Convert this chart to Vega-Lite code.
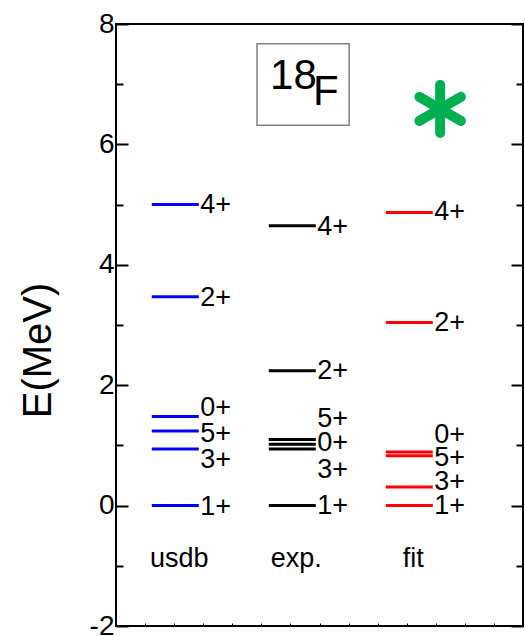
{
  "$schema": "https://vega.github.io/schema/vega-lite/v6.json",
  "width": 407,
  "height": 602,
  "autosize": "none",
  "padding": {"left": 116, "top": 24, "right": 2, "bottom": 10},
  "config": {
    "view": {"stroke": "black", "strokeWidth": 2},
    "font": "Liberation Sans",
    "axis": {"grid": false, "domain": false, "tickColor": "black", "tickWidth": 2, "labelColor": "black", "titleColor": "black", "labelFont": "Liberation Sans", "titleFont": "Liberation Sans"}
  },
  "datasets": {
    "levels": [
      {"model": "usdb", "Jpi": "1+", "E": 0.0, "labelE": -0.02},
      {"model": "usdb", "Jpi": "3+", "E": 0.94, "labelE": 0.76},
      {"model": "usdb", "Jpi": "5+", "E": 1.24, "labelE": 1.19},
      {"model": "usdb", "Jpi": "0+", "E": 1.48, "labelE": 1.62},
      {"model": "usdb", "Jpi": "2+", "E": 3.47, "labelE": 3.45},
      {"model": "usdb", "Jpi": "4+", "E": 5.0, "labelE": 5.0},
      {"model": "exp.", "Jpi": "1+", "E": 0.0, "labelE": 0.0},
      {"model": "exp.", "Jpi": "3+", "E": 0.94, "labelE": 0.59},
      {"model": "exp.", "Jpi": "0+", "E": 1.02, "labelE": 1.04},
      {"model": "exp.", "Jpi": "5+", "E": 1.1, "labelE": 1.44},
      {"model": "exp.", "Jpi": "2+", "E": 2.24, "labelE": 2.24},
      {"model": "exp.", "Jpi": "4+", "E": 4.65, "labelE": 4.63},
      {"model": "fit", "Jpi": "1+", "E": 0.0, "labelE": 0.0},
      {"model": "fit", "Jpi": "3+", "E": 0.31, "labelE": 0.4},
      {"model": "fit", "Jpi": "5+", "E": 0.83, "labelE": 0.79},
      {"model": "fit", "Jpi": "0+", "E": 0.89, "labelE": 1.17},
      {"model": "fit", "Jpi": "2+", "E": 3.04, "labelE": 3.04},
      {"model": "fit", "Jpi": "4+", "E": 4.87, "labelE": 4.87}
    ],
    "models": [
      {"model": "usdb", "E": -1.02},
      {"model": "exp.", "E": -1.02},
      {"model": "fit", "E": -1.02}
    ]
  },
  "resolve": {"scale": {"x": "independent"}, "axis": {"y": "independent", "x": "independent"}},
  "layer": [
    {
      "data": {"name": "levels"},
      "mark": {"type": "tick", "orient": "horizontal", "size": 47, "thickness": 3, "opacity": 1},
      "encoding": {
        "x": {"field": "model", "type": "nominal", "scale": {"type": "point", "domain": ["usdb", "exp.", "fit"], "range": [59.3, 293.3], "padding": 0}, "axis": null},
        "y": {"field": "E", "type": "quantitative", "scale": {"domain": [-2, 8], "nice": false, "zero": false},
          "axis": {"orient": "left", "values": [-2, 0, 2, 4, 6, 8], "tickSize": -12, "labelFontSize": 28, "labelPadding": 14, "labelExpr": "'' + datum.value",
            "title": "E(MeV)", "titleFontSize": 40, "titleFontWeight": "normal", "titleX": -78, "titleY": 326, "titleAngle": -90, "titleAlign": "center", "titleBaseline": "middle"}},
        "color": {"field": "model", "type": "nominal", "scale": {"domain": ["usdb", "exp.", "fit"], "range": ["#0000FF", "#000000", "#FF0000"]}, "legend": null}
      }
    },
    {
      "data": {"name": "levels"},
      "mark": {"type": "text", "align": "left", "baseline": "middle", "dx": 25, "fontSize": 27, "color": "black"},
      "encoding": {
        "x": {"field": "model", "type": "nominal", "scale": {"type": "point", "domain": ["usdb", "exp.", "fit"], "range": [59.3, 293.3], "padding": 0}, "axis": null},
        "y": {"field": "labelE", "type": "quantitative", "scale": {"domain": [-2, 8], "nice": false, "zero": false},
          "axis": {"orient": "left", "values": [-1, 1, 3, 5, 7], "tickSize": -7, "labels": false, "title": null}},
        "text": {"field": "Jpi"}
      }
    },
    {
      "data": {"name": "models"},
      "mark": {"type": "text", "align": "center", "baseline": "alphabetic", "dx": 4, "fontSize": 27, "color": "black"},
      "encoding": {
        "x": {"field": "model", "type": "nominal", "scale": {"type": "point", "domain": ["usdb", "exp.", "fit"], "range": [59.3, 293.3], "padding": 0}, "axis": null},
        "y": {"field": "E", "type": "quantitative", "scale": {"domain": [-2, 8], "nice": false, "zero": false},
          "axis": {"orient": "right", "values": [-2, 0, 2, 4, 6, 8], "tickSize": -12, "labels": false, "title": null}},
        "text": {"field": "model"}
      }
    },
    {
      "data": {"values": [{"x1": 4.85, "x2": 8.02, "y1": 7.67, "y2": 6.32}]},
      "mark": {"type": "rect", "fill": null, "stroke": "#808080", "strokeWidth": 1.5},
      "encoding": {
        "x": {"field": "x1", "type": "quantitative", "scale": {"domain": [0, 14], "nice": false, "zero": false},
          "axis": {"orient": "bottom", "values": [1,2,3,4,5,6,7,8,9,10,11,12,13], "tickSize": -3, "tickWidth": 1, "labels": false, "title": null}},
        "x2": {"field": "x2"},
        "y": {"field": "y1", "type": "quantitative", "scale": {"domain": [-2, 8], "nice": false, "zero": false},
          "axis": {"orient": "right", "values": [-1, 1, 3, 5, 7], "tickSize": -7, "labels": false, "title": null}},
        "y2": {"field": "y2"}
      }
    },
    {
      "data": {"values": [{"x": 5.3, "y": 7.13, "t": "18"}, {"x": 6.78, "y": 6.87, "t": "F"}]},
      "mark": {"type": "text", "align": "left", "baseline": "middle", "fontSize": 42, "color": "black"},
      "encoding": {
        "x": {"field": "x", "type": "quantitative", "scale": {"domain": [0, 14], "nice": false, "zero": false}, "axis": null},
        "y": {"field": "y", "type": "quantitative", "scale": {"domain": [-2, 8], "nice": false, "zero": false}, "axis": null},
        "text": {"field": "t"}
      }
    },
    {
      "data": {"values": [{"x": 11.15, "y": 6.59}]},
      "mark": {"type": "point", "shape": "M0,-1L0,1M-0.866,-0.5L0.866,0.5M-0.866,0.5L0.866,-0.5", "size": 2304, "filled": false, "stroke": "#00B050", "strokeWidth": 10, "strokeCap": "round", "opacity": 1},
      "encoding": {
        "x": {"field": "x", "type": "quantitative", "scale": {"domain": [0, 14], "nice": false, "zero": false}, "axis": null},
        "y": {"field": "y", "type": "quantitative", "scale": {"domain": [-2, 8], "nice": false, "zero": false}, "axis": null}
      }
    }
  ]
}
